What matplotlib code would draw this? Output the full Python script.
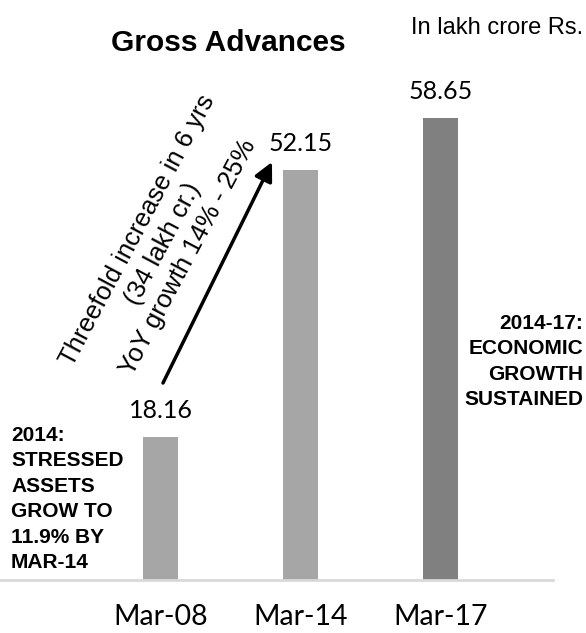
import matplotlib
matplotlib.use("Agg")
import matplotlib.pyplot as plt

# data
periods = ["Mar-08", "Mar-14", "Mar-17"]
advances = [18.16, 52.15, 58.65]
bar_colors = ["#A6A6A6", "#A6A6A6", "#808080"]

W, H = 586, 633
fig = plt.figure(figsize=(W / 100, H / 100), dpi=100)

# axes placed so that the bars land where they are in the original
px_per_cat = 140.0
x0_px = 160.5
base_px = 580
px_per_unit = 7.87
ax = fig.add_axes([0, (H - base_px) / H, 1, base_px / H])
ax.set_xlim(-x0_px / px_per_cat, (W - x0_px) / px_per_cat)
ax.set_ylim(0, base_px / px_per_unit)

xs = list(range(len(periods)))
ax.bar(xs, advances, width=0.25, color=bar_colors)

for x, v in zip(xs, advances):
    ax.annotate(f"{v:.2f}", (x, v), xytext=(0, 19), textcoords="offset pixels",
                ha="center", va="baseline", fontsize=18, family="Lato")

for s in ax.spines.values():
    s.set_visible(False)
ax.axhline(0, xmin=0, xmax=553 / W, color="#D9D9D9", lw=2, clip_on=False)
ax.set_yticks([])
ax.set_xticks(xs, periods, fontsize=20.5, family="Lato")
ax.tick_params(axis="x", length=0, pad=17)

# arrow showing the jump
ax.annotate("", xy=((272 - x0_px) / px_per_cat, (base_px - 162) / px_per_unit),
            xytext=((163 - x0_px) / px_per_cat, (base_px - 383) / px_per_unit),
            arrowprops=dict(arrowstyle="-|>", lw=2.5, mutation_scale=28, color="black",
                            shrinkA=0, shrinkB=0))

def fx(p):
    return p / W

def fy(p):
    return 1 - p / H

fig.text(fx(228), fy(43), "Gross Advances", ha="center", va="center",
         fontsize=21.5, fontweight="bold", family="Liberation Sans")
fig.text(fx(583), fy(28), "In lakh crore Rs.", ha="right", va="center",
         fontsize=17, family="Liberation Sans")

fig.text(fx(163), fy(244), "Threefold increase in 6 yrs\n(34 lakh cr.)\nYoY growth 14% - 25%",
         ha="center", va="center", rotation=62, rotation_mode="anchor",
         fontsize=18.5, family="Liberation Sans", linespacing=1.25)

fig.text(fx(11), fy(426), "2014:\nSTRESSED\nASSETS\nGROW TO\n11.9% BY\nMAR-14",
         ha="left", va="top", fontsize=15, fontweight="bold",
         family="Liberation Sans", linespacing=1.43)
fig.text(fx(583), fy(314), "2014-17:\nECONOMIC\nGROWTH\nSUSTAINED",
         ha="right", va="top", multialignment="right", fontsize=15, fontweight="bold",
         family="Liberation Sans", linespacing=1.43)

fig.savefig("out.png", dpi=100)
